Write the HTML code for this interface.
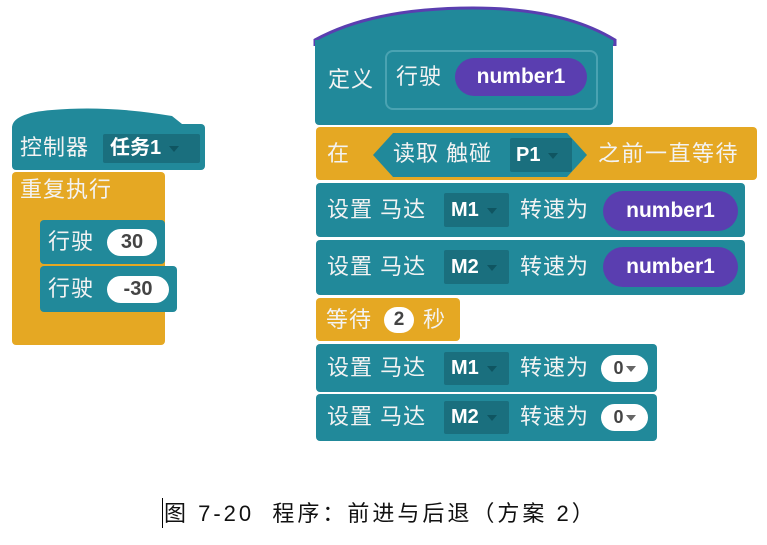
<!DOCTYPE html>
<html><head><meta charset="utf-8"><style>
body{margin:0;width:767px;height:545px;background:#fff;position:relative;overflow:hidden;font-family:"Liberation Sans","Noto Sans CJK SC",sans-serif;}
.a{position:absolute;box-sizing:border-box;}
.t{background:#21899a;border-radius:4px;}
.o{background:#e5a823;border-radius:4px;}
.d{background:#1a6f7e;border-radius:2px;}
.p{background:#5a3eb0;border-radius:20px;color:#fff;font-weight:bold;text-align:center;}
.w{background:#fff;border-radius:14px;color:#444;font-weight:bold;text-align:center;}
.tx{position:absolute;color:#f3f3f3;font-size:22px;line-height:24px;letter-spacing:1px;white-space:nowrap;}
.bt{color:#fff;font-weight:bold;font-size:20px;letter-spacing:0;}
.arr{display:inline-block;width:0;height:0;border-left:5px solid transparent;border-right:5px solid transparent;border-top:6px solid #0f5561;vertical-align:middle;margin-left:8px;}
</style></head><body>

<!-- left hat -->
<svg class="a" style="left:12px;top:108px" width="195" height="20"><path d="M0 20 Q0 5 40 2 Q95 -3 160 8 L175 20 Z" fill="#21899a"/></svg>
<div class="a t" style="left:12px;top:124px;width:193px;height:46px;"></div>
<div class="tx" style="left:20px;top:136px;">控制器</div>
<div class="a d" style="left:103px;top:134px;width:97px;height:29px;"></div>
<div class="tx bt" style="left:110px;top:136px;">任务1<span class="arr"></span></div>

<!-- orange loop -->
<div class="a o" style="left:12px;top:172px;width:153px;height:173px;"></div>
<div class="tx" style="left:20px;top:178px;">重复执行</div>
<div class="a t" style="left:40px;top:220px;width:125px;height:44px;"></div>
<div class="tx" style="left:48px;top:230px;">行驶</div>
<div class="a w" style="left:107px;top:229px;width:50px;height:27px;font-size:20px;line-height:27px;">30</div>
<div class="a t" style="left:40px;top:266px;width:137px;height:46px;"></div>
<div class="tx" style="left:48px;top:277px;">行驶</div>
<div class="a w" style="left:107px;top:276px;width:62px;height:27px;font-size:20px;line-height:27px;">-30</div>

<!-- right hat -->
<svg class="a" style="left:313px;top:6px" width="305" height="40"><path d="M2 40 L2 34 Q60 2 160 2 Q250 2 302 34 L302 40 Z" fill="#21899a" stroke="#5a3eb0" stroke-width="3"/></svg>
<div class="a t" style="left:315px;top:40px;width:298px;height:85px;border-radius:0 0 4px 4px;"></div>
<div class="tx" style="left:328px;top:68px;">定义</div>
<div class="a" style="left:385px;top:50px;width:213px;height:60px;border:2px solid #4aa3b2;border-radius:8px;"></div>
<div class="tx" style="left:396px;top:65px;">行驶</div>
<div class="a p" style="left:455px;top:58px;width:132px;height:38px;font-size:21px;line-height:38px;">number1</div>

<!-- wait until -->
<div class="a o" style="left:316px;top:127px;width:441px;height:53px;"></div>
<div class="tx" style="left:327px;top:142px;">在</div>
<svg class="a" style="left:373px;top:132px" width="215" height="46"><polygon points="0,23 20,1 194,1 214,23 194,45 20,45" fill="#21899a"/></svg>
<div class="tx" style="left:393px;top:142px;">读取 触碰</div>
<div class="a d" style="left:510px;top:138px;width:62px;height:34px;"></div>
<div class="tx bt" style="left:516px;top:143px;">P1<span class="arr"></span></div>
<div class="tx" style="left:598px;top:142px;letter-spacing:1.5px;">之前一直等待</div>

<!-- set M1 number1 -->
<div class="a t" style="left:316px;top:183px;width:429px;height:54px;"></div>
<div class="tx" style="left:327px;top:198px;">设置 马达</div>
<div class="a d" style="left:444px;top:193px;width:65px;height:34px;"></div>
<div class="tx bt" style="left:451px;top:198px;">M1<span class="arr"></span></div>
<div class="tx" style="left:520px;top:198px;">转速为</div>
<div class="a p" style="left:603px;top:191px;width:135px;height:40px;font-size:21px;line-height:40px;">number1</div>

<div class="a t" style="left:316px;top:240px;width:429px;height:55px;"></div>
<div class="tx" style="left:327px;top:255px;">设置 马达</div>
<div class="a d" style="left:444px;top:250px;width:65px;height:34px;"></div>
<div class="tx bt" style="left:451px;top:255px;">M2<span class="arr"></span></div>
<div class="tx" style="left:520px;top:255px;">转速为</div>
<div class="a p" style="left:603px;top:247px;width:135px;height:40px;font-size:21px;line-height:40px;">number1</div>

<!-- wait 2 -->
<div class="a o" style="left:316px;top:298px;width:144px;height:43px;"></div>
<div class="tx" style="left:326px;top:308px;">等待</div>
<div class="a w" style="left:384px;top:307px;width:30px;height:26px;font-size:19px;line-height:26px;">2</div>
<div class="tx" style="left:423px;top:308px;">秒</div>

<div class="a t" style="left:316px;top:344px;width:341px;height:48px;"></div>
<div class="tx" style="left:327px;top:356px;">设置 马达</div>
<div class="a d" style="left:444px;top:352px;width:65px;height:33px;"></div>
<div class="tx bt" style="left:451px;top:356px;">M1<span class="arr"></span></div>
<div class="tx" style="left:520px;top:356px;">转速为</div>
<div class="a w" style="left:601px;top:355px;width:47px;height:27px;font-size:18px;line-height:27px;">0<span class="arr" style="margin-left:2px;border-top-color:#666"></span></div>

<div class="a t" style="left:316px;top:394px;width:341px;height:47px;"></div>
<div class="tx" style="left:327px;top:405px;">设置 马达</div>
<div class="a d" style="left:444px;top:401px;width:65px;height:33px;"></div>
<div class="tx bt" style="left:451px;top:405px;">M2<span class="arr"></span></div>
<div class="tx" style="left:520px;top:405px;">转速为</div>
<div class="a w" style="left:601px;top:404px;width:47px;height:27px;font-size:18px;line-height:27px;">0<span class="arr" style="margin-left:2px;border-top-color:#666"></span></div>

<!-- caption -->
<div class="a" style="left:162px;top:498px;width:1px;height:30px;background:#000;"></div>
<div class="tx" style="left:164px;top:500px;color:#111;font-size:22px;line-height:28px;letter-spacing:3px;">图 7-20&nbsp; 程序：前进与后退（方案 2）</div>
</body></html>
